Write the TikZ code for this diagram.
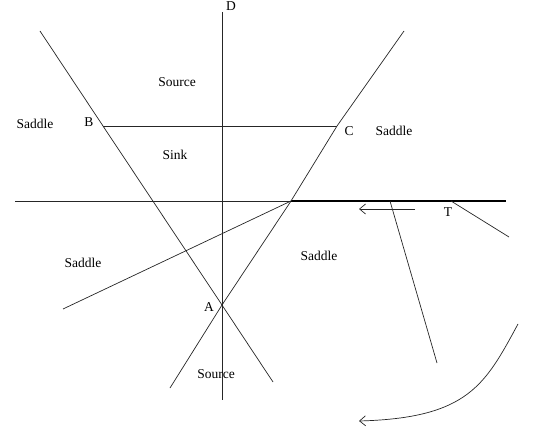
\documentclass[tikz,border=0pt]{standalone}
\usepackage{fontspec}
\setmainfont{Liberation Serif}
\usetikzlibrary{arrows.meta}
\begin{document}
\begin{tikzpicture}[x=1pt,y=-1pt,
  ln/.style={line width=0.7pt,draw=black!85},
  thick axis/.style={line width=1.6pt,draw=black},
  lbl/.style={font=\fontsize{13.5}{15}\selectfont,inner sep=0pt},
  openarrow/.style={ln,-{Straight Barb[length=6pt,width=10pt,line width=0.7pt]}}]
\useasboundingbox (0,0) rectangle (541,433);
% points
\coordinate (Dtop) at (222,12);
\coordinate (Dbot) at (222,400);
\coordinate (Hl) at (15,201);
\coordinate (Hr) at (506,201);
\coordinate (O) at (291,201);
\coordinate (Bt) at (40,31);
\coordinate (Bp) at (103,126);
\coordinate (Ap) at (222,305);
\coordinate (Be) at (273,382);
\coordinate (Ct) at (404,31);
\coordinate (Cp) at (337,126);
\coordinate (Ce) at (170,388);
\coordinate (Ls) at (63,309);
\coordinate (Tp) at (451,201);
\coordinate (Te) at (509,237);
\coordinate (Ms) at (390,201);
\coordinate (Me) at (437,363);
\coordinate (Ar1) at (415,209);
\coordinate (Ar2) at (359,209);
\coordinate (Cv1) at (518,324);
\coordinate (Cv2) at (359,421);
% lines
\draw[ln] (Dtop) -- (Dbot);
\draw[ln] (Hl) -- (O);
\draw[thick axis] (O) -- (Hr);
\draw[ln] (Bt) -- (Bp) -- (Ap) -- (Be);
\draw[ln] (Ct) -- (Cp) -- (O) -- (Ap) -- (Ce);
\draw[ln] (Bp) -- (Cp);
\draw[ln] (Ls) -- (O);
\draw[ln] (Tp) -- (Te);
\draw[ln] (Ms) -- (Me);
\draw[openarrow] (Ar1) -- (Ar2);
\draw[openarrow] (Cv1) .. controls (485,385) and (468,418) .. (Cv2);
% labels
\node[lbl] (lD) at (231,6) {D};
\node[lbl] (lSrc1) at (177,82) {Source};
\node[lbl] (lSad1) at (35,124) {Saddle};
\node[lbl] (lB) at (89,122) {B};
\node[lbl] (lSink) at (175,155) {Sink};
\node[lbl] (lC) at (349,131) {C};
\node[lbl] (lSad2) at (394,131) {Saddle};
\node[lbl] (lT) at (448,212) {T};
\node[lbl] (lSad3) at (83,263) {Saddle};
\node[lbl] (lA) at (209,307) {A};
\node[lbl] (lSrc2) at (216,374) {Source};
\node[lbl] (lSad4) at (319,256) {Saddle};
\end{tikzpicture}
\end{document}
